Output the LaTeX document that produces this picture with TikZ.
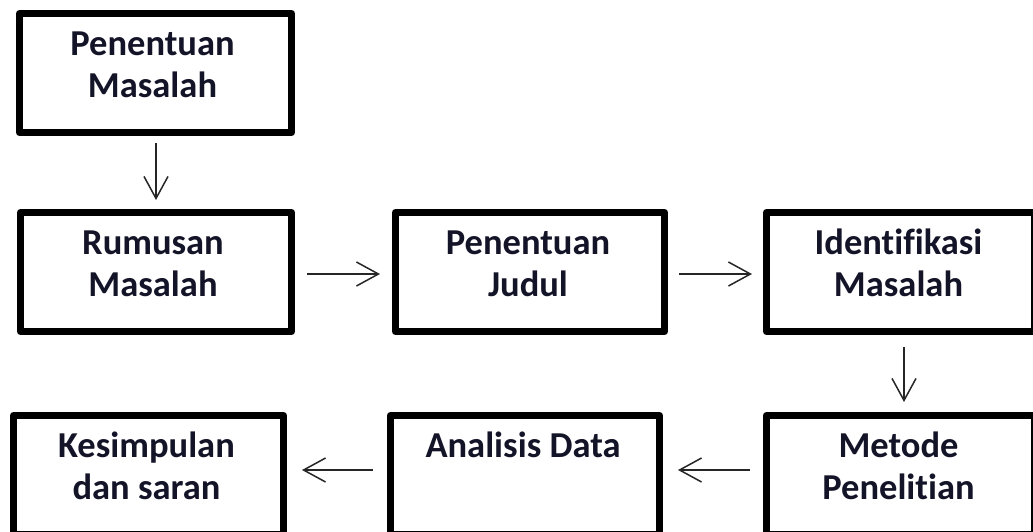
\documentclass[tikz,border=0pt]{standalone}
\usepackage{fontspec}
\setmainfont[Ligatures=NoCommon]{Carlito}
\usetikzlibrary{arrows.meta}
\definecolor{txt}{RGB}{20,20,40}
\tikzset{
  stepbox/.style={draw=black, line width=7pt, line join=round, rectangle,
    minimum height=119pt, inner sep=0pt, outer sep=0pt},
  boxtext/.style={anchor=north, inner sep=0pt, align=center, text=txt,
    font=\fontsize{36.5}{42.5}\selectfont\bfseries},
  flow/.style={line width=1.5pt, draw=black!85,
    -{Straight Barb[length=22pt, width=24pt, line width=1.5pt]}}
}
\begin{document}
\begin{tikzpicture}[x=1pt, y=-1pt]
\useasboundingbox (0,0) rectangle (1033,531);
\clip (0,0) rectangle (1033,531);
\fill[white] (0,0) rectangle (1033,531);
% boxes
\node[stepbox, minimum width=272pt] (b1) at (155.5,73) {};
\node[stepbox, minimum width=271pt] (b2) at (156,272) {};
\node[stepbox, minimum width=269pt] (b3) at (530,272) {};
\node[stepbox, minimum width=268pt] (b4) at (900.5,272) {};
\node[stepbox, minimum width=270pt] (b5) at (148.5,475) {};
\node[stepbox, minimum width=269pt] (b6) at (525,475) {};
\node[stepbox, minimum width=268pt] (b7) at (900.5,475) {};
% texts
\node[boxtext] (t1) at ([xshift=-3pt,yshift=-11.5pt]b1.north) {\rule{0pt}{30pt}Penentuan\\Masalah};
\node[boxtext] (t2) at ([xshift=-3pt,yshift=-11.5pt]b2.north) {\rule{0pt}{30pt}Rumusan\\Masalah};
\node[boxtext] (t3) at ([xshift=-2pt,yshift=-11.5pt]b3.north) {\rule{0pt}{30pt}Penentuan\\Judul};
\node[boxtext] (t4) at ([xshift=-2pt,yshift=-11.5pt]b4.north) {\rule{0pt}{30pt}Identifikasi\\Masalah};
\node[boxtext] (t5) at ([xshift=-2pt,yshift=-11.5pt]b5.north) {\rule{0pt}{30pt}Kesimpulan\\dan saran};
\node[boxtext] (t6) at ([xshift=-2pt,yshift=-11.5pt]b6.north) {\rule{0pt}{30pt}Analisis Data};
\node[boxtext] (t7) at ([xshift=-2pt,yshift=-11.5pt]b7.north) {\rule{0pt}{30pt}Metode\\Penelitian};
% connectors
\draw[flow, shorten <=10.5pt, shorten >=12.5pt] ([xshift=0.5pt]b1.south) -- (b2.north);
\draw[flow, shorten <=15.5pt, shorten >=15.5pt] ([yshift=-2pt]b2.east) -- ([yshift=-2pt]b3.west);
\draw[flow, shorten <=14.5pt, shorten >=14.5pt] ([yshift=-2pt]b3.east) -- ([yshift=-2pt]b4.west);
\draw[flow, shorten <=15.5pt, shorten >=13.5pt] ([xshift=3.5pt]b4.south) -- ([xshift=3.5pt]b7.north);
\draw[flow, shorten <=16.5pt, shorten >=18.5pt] ([yshift=5pt]b7.west) -- ([yshift=5pt]b6.east);
\draw[flow, shorten <=17.5pt, shorten >=18.5pt] ([yshift=5pt]b6.west) -- ([yshift=5pt]b5.east);
\end{tikzpicture}
\end{document}
